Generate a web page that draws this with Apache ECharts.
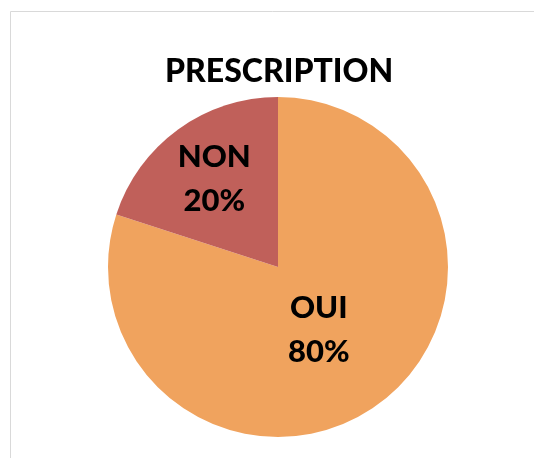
<!DOCTYPE html>
<html>
<head>
<meta charset="utf-8">
<script src="https://cdn.jsdelivr.net/npm/echarts@6/dist/echarts.min.js"></script>
<style>
html,body{margin:0;padding:0;background:#fff;}
#c{width:534px;height:458px;}
</style>
</head>
<body>
<div id="c"></div>
<script>
const categories = ['OUI', 'NON'];
const values = [80, 20];
const percentLabels = ['80%', '20%'];
const title = 'PRESCRIPTION';

const colors = ['#F0A35E', '#C0605A'];
const offsets = [[-11, -8], [-12, -17]];

const chart = echarts.init(document.getElementById('c'));
chart.setOption({
  animation: false,
  title: {
    text: title,
    left: 165,
    top: 56,
    padding: 0,
    textStyle: { fontFamily: 'Lato', fontWeight: 900, fontSize: 32, color: '#000' }
  },
  graphic: [{
    type: 'rect',
    shape: { x: 10.5, y: 11.5, width: 700, height: 700 },
    style: { fill: 'none', stroke: '#d9d9d9', lineWidth: 1 },
    silent: true
  }],
  series: [{
    type: 'pie',
    center: [278, 267],
    radius: [0, 170],
    startAngle: 90,
    clockwise: true,
    itemStyle: { borderWidth: 0 },
    label: {
      position: 'inside',
      fontFamily: 'Lato',
      fontWeight: 900,
      fontSize: 31,
      lineHeight: 44,
      color: '#000',
      formatter: p => p.name + '\n' + percentLabels[p.dataIndex]
    },
    labelLine: { show: false },
    data: categories.map((c, i) => ({
      name: c,
      value: values[i],
      itemStyle: { color: colors[i] },
      label: { offset: offsets[i] }
    }))
  }]
});
</script>
</body>
</html>
